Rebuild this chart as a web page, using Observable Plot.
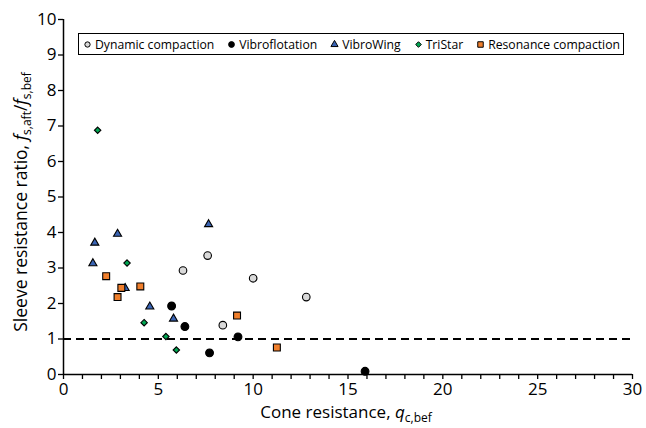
<!DOCTYPE html>
<html>
<head>
<meta charset="utf-8">
<script src="https://cdn.jsdelivr.net/npm/d3@7"></script>
<script src="https://cdn.jsdelivr.net/npm/@observablehq/plot@0.6"></script>
<style>
  html, body { margin: 0; padding: 0; background: #fff; }
  #wrap { position: relative; width: 646px; height: 428px; font-family: "Open Sans", "Noto Sans", sans-serif; }
  #legend { position: absolute; left: 78px; top: 33px; width: 546px; height: 22px; border: 1px solid #000; background: #fff;
            display: flex; align-items: center; justify-content: space-between; font-size: 12.2px; color: #000;
            box-sizing: border-box; padding-left: 5px; padding-right: 3px; }
  #legend .item { display: flex; align-items: center; white-space: nowrap; }
  #legend svg { margin-right: 4px; overflow: visible; }
</style>
</head>
<body>
<div id="wrap"><div id="legend"></div></div>
<script>
// Series names
const seriesNames = ["Dynamic compaction", "Vibroflotation", "VibroWing", "TriStar", "Resonance compaction"];

// Dynamic compaction
const dynX = [6.3, 7.6, 10.0, 12.8, 8.4];
const dynY = [2.93, 3.35, 2.71, 2.18, 1.39];
// Vibroflotation
const vibX = [5.7, 6.4, 7.7, 9.2, 15.9];
const vibY = [1.93, 1.35, 0.61, 1.06, 0.09];
// VibroWing
const wingX = [1.65, 1.55, 2.85, 7.65, 4.55, 5.8, 3.25];
const wingY = [3.71, 3.13, 3.96, 4.23, 1.91, 1.57, 2.43];
// TriStar
const triX = [1.8, 3.35, 4.25, 5.4, 5.95];
const triY = [6.88, 3.14, 1.46, 1.07, 0.69];
// Resonance compaction
const resX = [2.25, 3.05, 2.85, 4.05, 9.15, 11.25];
const resY = [2.77, 2.44, 2.18, 2.48, 1.66, 0.76];

const xTicks = d3.range(0, 31, 1);
const xTickLabels = [0, 5, 10, 15, 20, 25, 30];
const yTicks = d3.range(0, 11, 1);
const refLine = [1];

const toRows = (xs, ys) => xs.map((x, i) => ({x, y: ys[i]}));

const styles = [
  {symbol: "circle", fill: "#d9d9d9", r: 3.8},
  {symbol: "circle", fill: "#000000", r: 3.9},
  {symbol: "triangle", fill: "#3a64b4", r: 3.0},
  {symbol: "diamond2", fill: "#00a651", r: 2.9},
  {symbol: "square", fill: "#f07f2c", r: 3.9}
];
const seriesData = [toRows(dynX, dynY), toRows(vibX, vibY), toRows(wingX, wingY), toRows(triX, triY), toRows(resX, resY)];

const plot = Plot.plot({
  width: 646,
  height: 428,
  marginLeft: 63,
  marginRight: 14,
  marginTop: 19,
  marginBottom: 54,
  style: {fontFamily: "'Open Sans', 'Noto Sans', sans-serif", background: "#fff", color: "#000"},
  x: {domain: [0, 30]},
  y: {domain: [0, 10]},
  marks: [
    Plot.ruleY(refLine, {stroke: "#000", strokeWidth: 2, strokeDasharray: "8,5"}),
    ...seriesData.map((data, i) => Plot.dot(data, {
      x: "x", y: "y", symbol: () => styles[i].symbol, r: styles[i].r,
      fill: styles[i].fill, stroke: "#000", strokeWidth: 1.1
    })),
    Plot.axisX({ticks: xTicks, tickSize: 5, tickFormat: d => xTickLabels.includes(d) ? String(d) : "", label: null,
                fontSize: 17, tickPadding: 3, strokeWidth: 1.3}),
    Plot.axisY({ticks: yTicks, tickSize: 5, tickFormat: d => String(d), label: null, fontSize: 17, tickPadding: 2, strokeWidth: 1.3}),
    Plot.ruleX([0], {stroke: "#000", strokeWidth: 1.5}),
    Plot.ruleY([0], {stroke: "#000", strokeWidth: 1.5})
  ]
});
plot.style.position = "absolute";
plot.style.left = "0px";
plot.style.top = "0px";
document.getElementById("wrap").prepend(plot);

// Axis titles with italic symbols and subscripts
const svg = d3.select(plot);
const xl = svg.append("text")
  .attr("x", 346).attr("y", 418).attr("text-anchor", "middle")
  .attr("font-size", 17).attr("fill", "#000");
xl.append("tspan").text("Cone resistance, ");
xl.append("tspan").attr("font-style", "italic").text("q");
xl.append("tspan").attr("font-size", 12).attr("dy", 4).text("c,bef");

const yl = svg.append("text")
  .attr("transform", "translate(27,202) rotate(-90)").attr("text-anchor", "middle")
  .attr("font-size", 17.5).attr("fill", "#000");
yl.append("tspan").text("Sleeve resistance ratio, ");
yl.append("tspan").attr("font-style", "italic").text("f");
yl.append("tspan").attr("font-size", 12).attr("dy", 4).text("s,aft");
yl.append("tspan").attr("dy", -4).text("/");
yl.append("tspan").attr("font-style", "italic").text("f");
yl.append("tspan").attr("font-size", 12).attr("dy", 4).text("s,bef");

// Legend
const legend = d3.select("#legend");
const symGen = {circle: d3.symbolCircle, triangle: d3.symbolTriangle, diamond2: d3.symbolDiamond2, square: d3.symbolSquare};
const legendSizes = [22, 26, 22, 20, 30];
seriesNames.forEach((name, i) => {
  const item = legend.append("div").attr("class", "item");
  const s = item.append("svg").attr("width", 7).attr("height", 7);
  s.append("path")
    .attr("transform", "translate(3.5,3.5)")
    .attr("d", d3.symbol(symGen[styles[i].symbol], legendSizes[i])())
    .attr("fill", styles[i].fill).attr("stroke", "#000").attr("stroke-width", 1);
  item.append("span").text(name);
});
</script>
</body>
</html>
